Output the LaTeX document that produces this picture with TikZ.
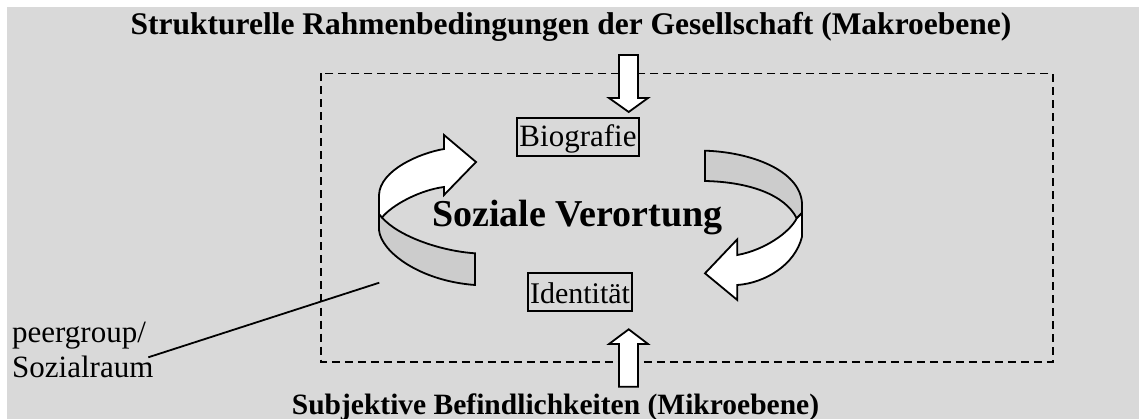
\documentclass[tikz,border=0pt]{standalone}
\usepackage{fontspec}
\setmainfont{Liberation Serif}
\definecolor{bgray}{RGB}{217,217,217}
\definecolor{bandgray}{RGB}{204,204,204}
\begin{document}
\begin{tikzpicture}[x=1pt,y=-1pt,
  outl/.style={draw=black, line width=1.8pt, line join=miter},
  frontface/.style={outl, fill=white},
  backface/.style={outl, fill=bandgray},
  plainlabel/.style={inner sep=0pt, font=\fontsize{31}{35}\selectfont},
  boxed/.style={draw, line width=1.8pt, inner sep=0pt, font=\fontsize{31}{36}\selectfont, text height=26pt, text depth=6pt, minimum height=38pt},
  heading/.style={inner sep=0pt, font=\bfseries\fontsize{31.5}{36}\selectfont, anchor=base},
  frame/.style={draw=black, line width=1.7pt, dash pattern=on 8pt off 5pt},
  leader/.style={draw=black, line width=1.8pt},
]
\useasboundingbox (0,0) rectangle (1139,419);
\fill[white] (0,0) rectangle (1139,419);
\fill[bgray] (7,7) rectangle (1139,419);

% dashed frame
\draw[frame] (321,73.5) rectangle (1053,361.7);

% block arrows top and bottom
\draw[frontface] (619,55) -- (638,55) -- (638,98) -- (648,98) -- (628.7,112) -- (609,98) -- (619,98) -- cycle;
\draw[frontface] (619,386.7) -- (638,386.7) -- (638,344) -- (648,344) -- (628.7,329.3) -- (609,344) -- (619,344) -- cycle;

% left circular arrow
\draw[backface] (379,214) -- (379,230) .. controls (381,252) and (420,281) .. (475,285) -- (475,253.3) .. controls (440,251) and (398,236) .. (382,217.5) -- cycle;
\draw[frontface] (476,162) -- (444,135) -- (444,149) .. controls (420,153) and (380,170) .. (379,195) -- (379,214) -- (382,217.5) .. controls (392,205) and (420,190) .. (444,187) -- (444,195) -- cycle;

% right circular arrow
\draw[backface] (705,150.7) .. controls (750,152) and (800,170) .. (802,203.3) -- (802,213) -- (796.7,218.3) .. controls (785,195) and (750,182) .. (705,181) -- cycle;
\draw[frontface] (705,273.3) -- (737.3,239.3) -- (737.3,255) .. controls (765,250) and (790,232) .. (796.7,218.3) -- (802,213) -- (802,236.7) .. controls (795,265) and (765,283) .. (737.3,285) -- (737.3,300) -- cycle;

% texts
\node[heading] (macro) at (571,35) {Strukturelle Rahmenbedingungen der Gesellschaft (Makroebene)};
\node[heading, font=\bfseries\fontsize{29.5}{36}\selectfont] (micro) at (555.5,414) {Subjektive Befindlichkeiten (Mikroebene)};
\node[anchor=base, inner sep=0pt, font=\bfseries\fontsize{38}{44}\selectfont] (sv) at (577.5,227) {Soziale Verortung};
\node[boxed, minimum width=122.6pt] (bio) at (578,136.7) {Biografie};
\node[boxed, minimum width=104pt, font=\fontsize{30}{36}\selectfont, text height=27pt, text depth=5pt] (ident) at (580,292.2) {Identität};
\node[plainlabel, anchor=base west, align=left] (pg) at (12,377) {peergroup/\\Sozialraum};

% leader line
\coordinate (pgEnd) at (148.3,357.3);
\coordinate (ringPt) at (379.3,282.7);
\draw[leader] (pgEnd) -- (ringPt);
\end{tikzpicture}
\end{document}
